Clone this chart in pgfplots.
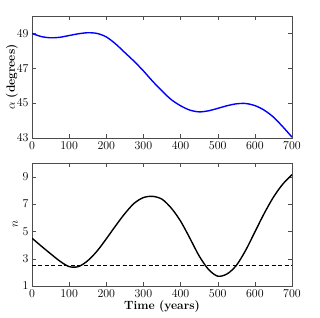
\documentclass[border=0pt]{standalone}
\usepackage{pgfplots}
\pgfplotsset{compat=1.18}
\begin{document}
\begin{tikzpicture}
\pgfplotsset{every axis/.append style={scale only axis, width=260bp, xmin=0, xmax=700,
  xtick={0,100,...,700}, tick align=inside, axis line style={black!70}, tick style={black!70},
  tick label style={font=\fontsize{12}{14}\selectfont},
  label style={font=\fontsize{12}{14}\selectfont}}}
\path[use as bounding box] (-32bp,-32bp) rectangle (288bp,286bp);
\begin{axis}[at={(0bp,148bp)}, anchor=south west, height=122bp, ymin=43, ymax=50,
  ytick={43,45,47,49}, ylabel={$\alpha$ \textbf{(degrees)}}, ylabel style={yshift=-8bp}]
\addplot[blue, line width=1.4pt, smooth] coordinates {
(0,49.0) (25,48.82) (50,48.75) (75,48.78) (100,48.88) (125,48.98) (150,49.04) (175,49.0)
(200,48.8) (225,48.4) (250,47.9) (275,47.4) (300,46.85) (325,46.25) (350,45.7) (375,45.2)
(400,44.85) (425,44.6) (450,44.5) (475,44.56) (500,44.7) (525,44.85) (550,44.96) (575,44.98)
(600,44.86) (625,44.6) (650,44.2) (675,43.65) (700,43.05)};
\end{axis}
\begin{axis}[at={(0bp,0bp)}, anchor=south west, height=123bp, ymin=1, ymax=10,
  ytick={1,3,5,7,9}, ylabel={$n$}, xlabel={\textbf{Time (years)}},
  ylabel style={yshift=-2bp}, xlabel style={yshift=4bp}]
\addplot[black, line width=1.4pt, smooth] coordinates {
(0,4.5) (25,3.92) (50,3.36) (75,2.82) (100,2.42) (125,2.42) (150,2.85) (175,3.55)
(200,4.45) (225,5.4) (250,6.3) (275,7.05) (300,7.47) (325,7.56) (350,7.35) (375,6.7)
(400,5.75) (425,4.5) (450,3.2) (475,2.22) (500,1.72) (525,1.88) (550,2.5) (575,3.6)
(600,4.95) (625,6.3) (650,7.5) (675,8.45) (700,9.15)};
\addplot[black, line width=1.2pt, dash pattern=on 4pt off 2.5pt] coordinates {(0,2.5) (700,2.5)};
\end{axis}
\end{tikzpicture}
\end{document}
